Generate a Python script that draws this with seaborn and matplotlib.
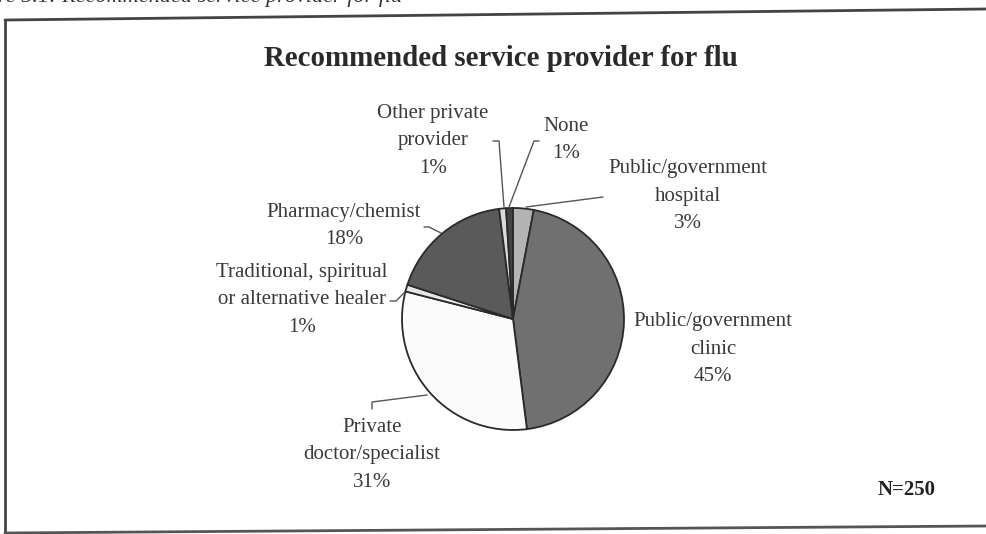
import matplotlib
matplotlib.use('Agg')
import matplotlib.pyplot as plt
import seaborn as sns

# Data (clockwise from 12 o'clock)
providers = ['Public/government\nhospital', 'Public/government\nclinic',
             'Private\ndoctor/specialist', 'Traditional, spiritual\nor alternative healer',
             'Pharmacy/chemist', 'Other private\nprovider', 'None']
shares = [3, 45, 31, 1, 18, 1, 1]
slice_colors = ['#b3b3b3', '#707070', '#fbfbfb', '#e6e6e6', '#5a5a5a', '#dadada', '#444444']
n_total = 250

sns.set_theme(style='white')
plt.rcParams['font.family'] = ['Liberation Serif', 'DejaVu Serif']

W, H = 986, 534
fig = plt.figure(figsize=(W / 100, H / 100), dpi=100)
ax = fig.add_axes([0, 0, 1, 1])

# pie in pixel-like coordinates (y up)
cx, cy, r = 513, H - 319, 111
wedges, _ = ax.pie(shares, colors=slice_colors, startangle=90, counterclock=False,
                   center=(cx, cy), radius=r, frame=False,
                   wedgeprops=dict(edgecolor='#2a2a2a', linewidth=1.3))
ax.set_xlim(0, W)
ax.set_ylim(0, H)
ax.set_aspect('equal')
ax.axis('off')

# label positions (pixel coords, y down) and leader lines
label_pos = [(688, 196), (713, 349), (372, 455), (302, 300), (344, 226), (433, 141), (566, 140)]
leaders = [
    [(603, 197), (526, 207)],
    None,
    [(372, 409), (372, 402), (427, 395)],
    [(390, 301), (396, 301), (404, 293)],
    [(424, 227), (429, 227), (441, 233)],
    [(493, 141), (499, 141), (504, 207)],
    [(539, 141), (534, 141), (509, 207)],
]
for name, val, (lx, ly), ld in zip(providers, shares, label_pos, leaders):
    ax.text(lx, H - ly, f'{name}\n{val}%', ha='center', va='center',
            fontsize=15, color='#3a3a3a', linespacing=1.6)
    if ld:
        ax.plot([p[0] for p in ld], [H - p[1] for p in ld], color='#555555', lw=1.0)

ax.text(501, H - 59, 'Recommended service provider for flu', ha='center', va='center',
        fontsize=20.8, fontweight='bold', color='#2a2a2a')
ax.text(907, H - 490, f'N={n_total}', ha='center', va='center',
        fontsize=15, fontweight='bold', color='#222222')

# cut-off figure caption at the very top
ax.text(-2, H - 2, 're 5.1: Recommended service provider for flu', ha='left', va='baseline',
        fontsize=16, fontstyle='italic', color='#333333')

# scanned frame
ax.plot([5, 986], [H - 20, H - 9], color='#444444', lw=2)
ax.plot([5, 5], [H - 20, 0], color='#444444', lw=2)
ax.plot([5, 986], [H - 533, H - 526], color='#555555', lw=2)

fig.savefig('out.png', dpi=100, facecolor='white')
